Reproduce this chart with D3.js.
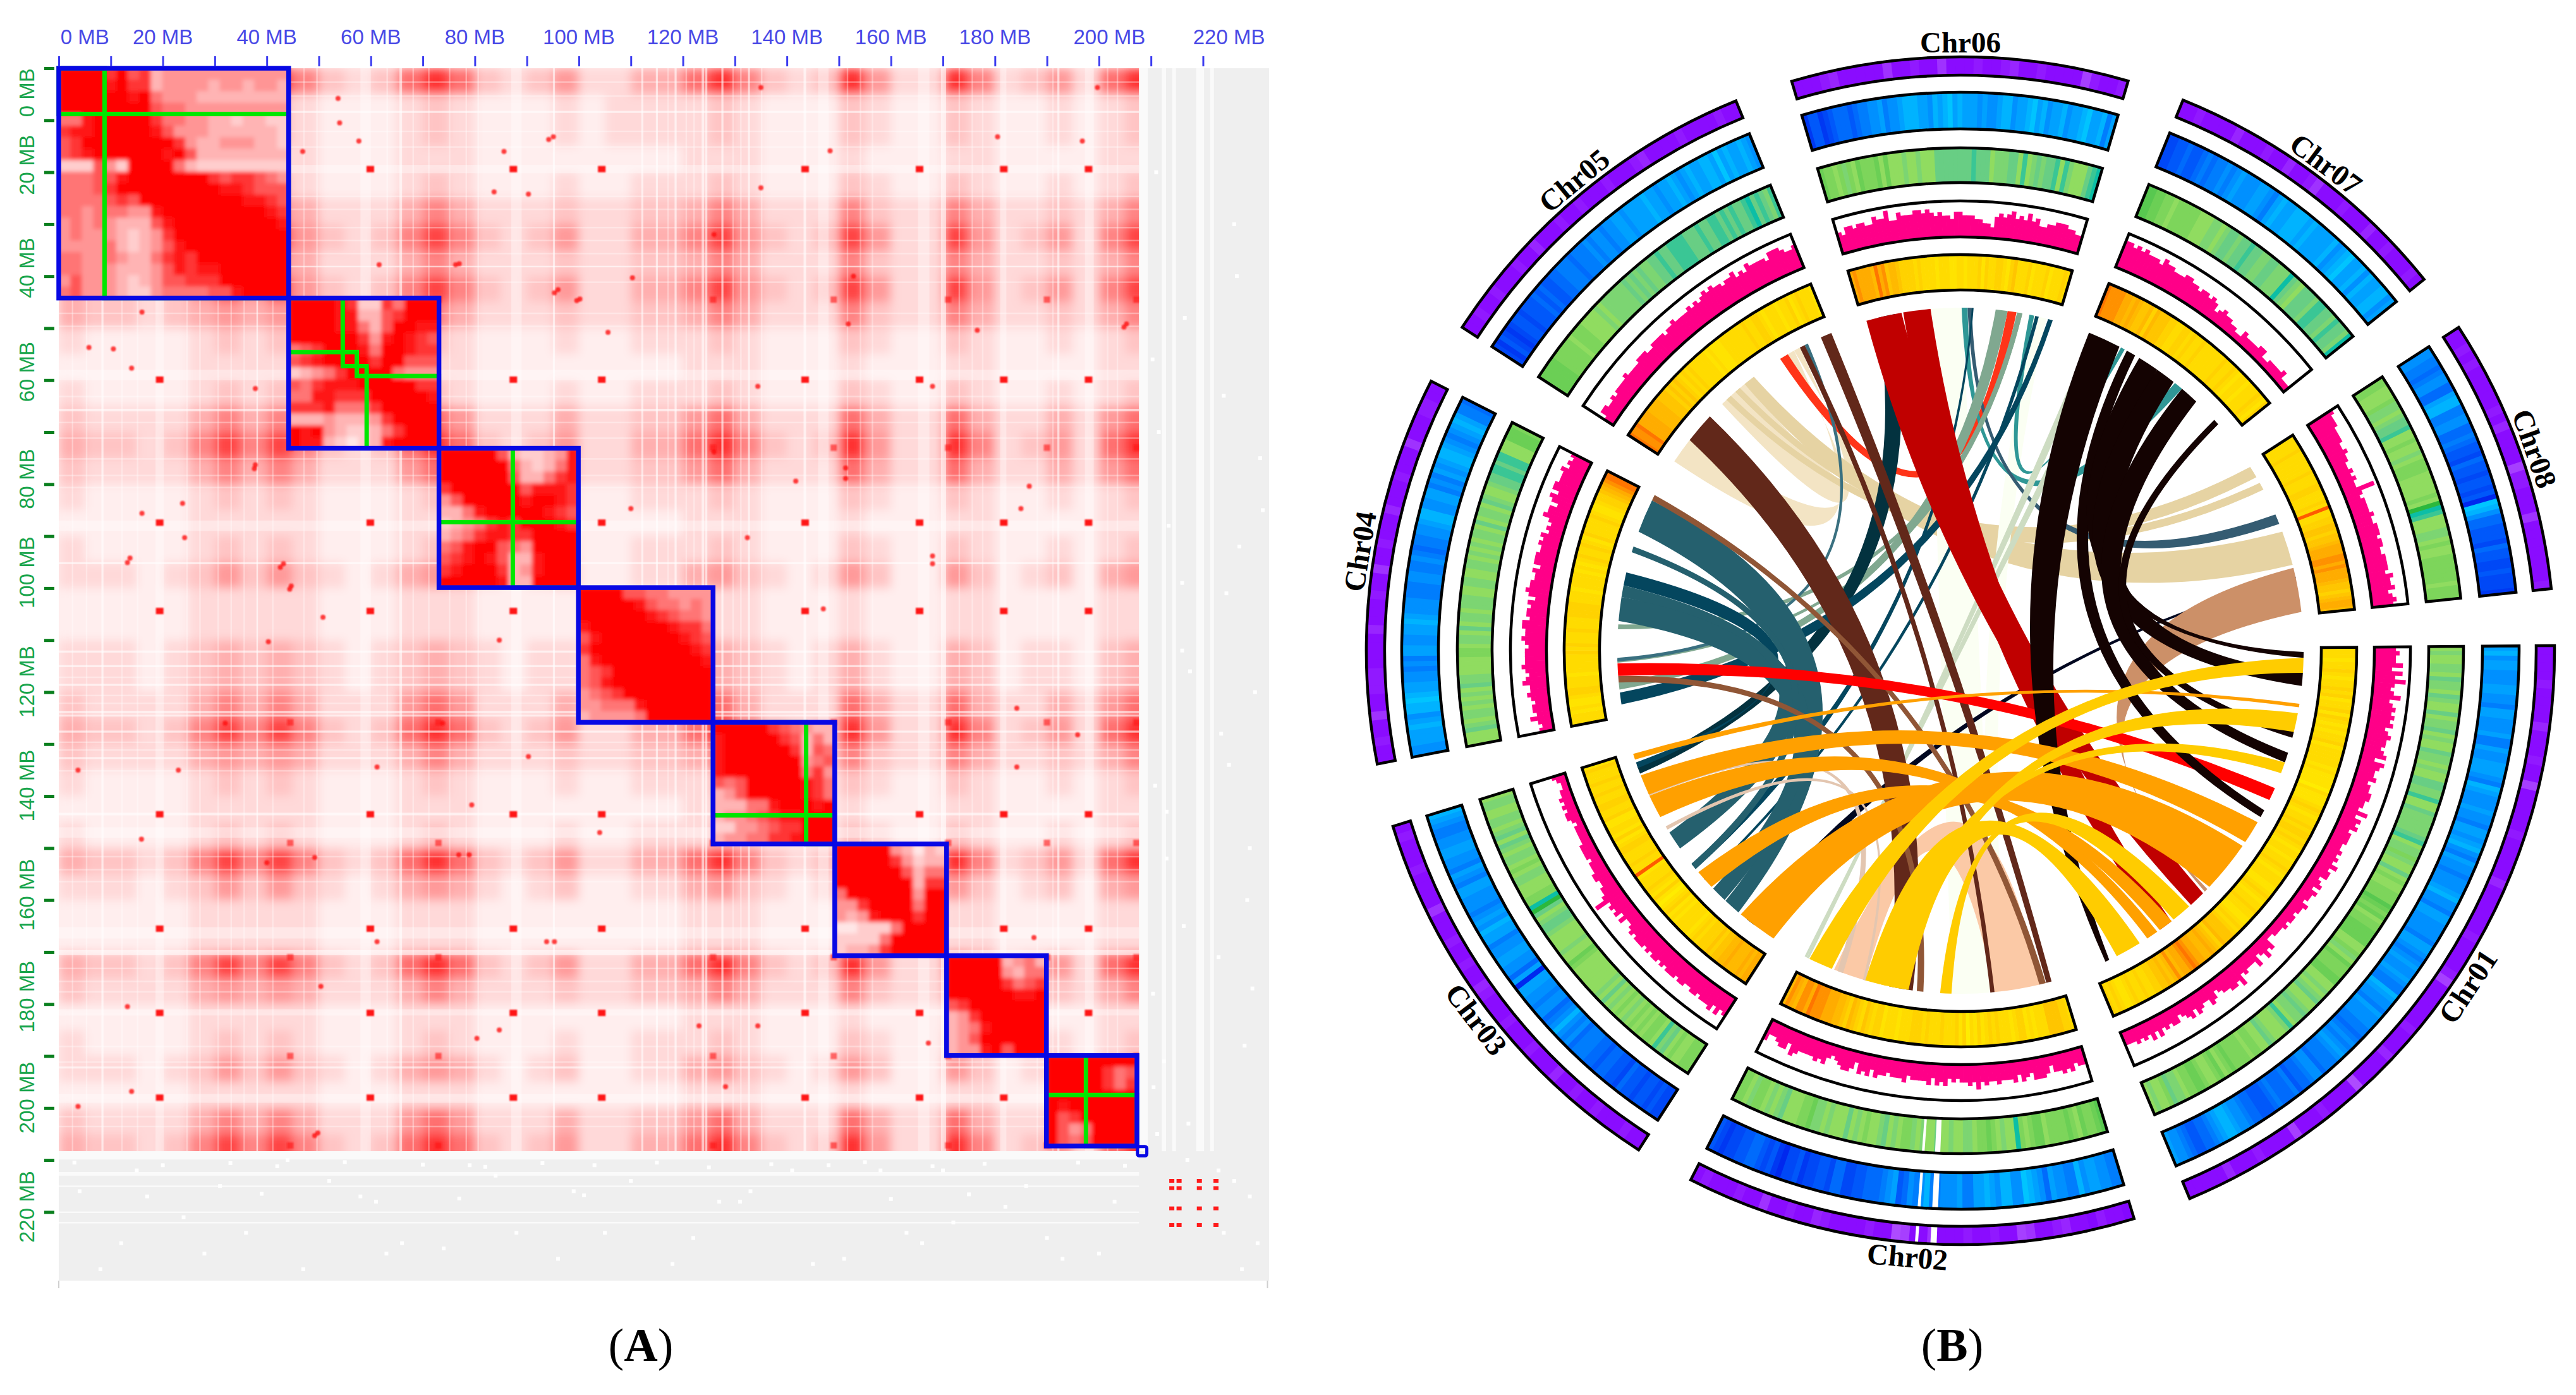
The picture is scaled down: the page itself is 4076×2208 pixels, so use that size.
<!DOCTYPE html>
<html><head><meta charset="utf-8">
<style>html,body{margin:0;padding:0;background:#fff}svg{display:block}</style>
<script src="https://cdnjs.cloudflare.com/ajax/libs/d3/7.8.5/d3.min.js"></script>
</head><body>
<script>
// ---------- PANEL A DATA (all positions in MB) ----------
const xTicks = [0,10,20,30,40,50,60,70,80,90,100,110,120,130,140,150,160,170,180,190,200,210,220];
const yTicks = [0,10,20,30,40,50,60,70,80,90,100,110,120,130,140,150,160,170,180,190,200,210,220];
const tickNames = ["0 MB","20 MB","40 MB","60 MB","80 MB","100 MB","120 MB","140 MB","160 MB","180 MB","200 MB","220 MB"];
const xNameAt = [5,20,40,60,80,100,120,140,160,180,202,225];
const yNameAt = [4.7,18.6,38.4,58.4,79,97,118,138,159,178.6,198,219];
const chrBounds = [0,44.2,73.1,99.9,125.8,149.2,170.7,189.9,207.3];
const tailContig = [207.4,209.2];
const contigBounds = [[0,8.8,44.2],[44.2,54.6,57.3,59.2,73.1],[73.1,87.3,99.9],[125.8,143.7,149.2],[189.9,197.5,207.3]];
const binMB = 5;
const contacts = [
"322125858521269621241133695212941195124169",
"211111212100012100010111121000210021001012",
"211112212100012100010111121000210021001012",
"100001111100011100000000111000100011000011",
"211112212100012100010011121000210021001012",
"322123434311135311121122353111521153112135",
"322124747421258521241133584212841184124158",
"322123434311135311121122353111521153112135",
"322124747421258521241133584212841184124158",
"322123434311135311121122353111521153112135",
"100001212100012100010011121000210021001012",
"000001111100011100000000111000100011000011",
"100001212100012100010011121000210021001012",
"211113535311146411131122463111631163113146",
"322125858521269621241133695212941195124169",
"211113535311146411131122463111631163113146",
"100001212100012100010011121000210021001012",
"000001111100011100000000111000100011000011",
"100001212100012100010011121000210021001012",
"111012424210134310120011342101420042012034",
"000001111100011100000000111000100011000011",
"000001111100011100000000111000100011000011",
"111012323210123210110011232101310032011023",
"111012323210123210110011232101310032011023",
"211113535311146411131122463111631163113146",
"322125858521269621241133695212941195124169",
"211113434311135311121122353111521153112135",
"100001212100012100010011121000210021001012",
"000001111100011100000000111000100011000011",
"100001212100012100010011121000210021001012",
"322125858521269621241133695212941195124169",
"111012424210134310120011342101420042012034",
"000001111100011100000000111000100011000011",
"000001111100011100000000111000100011000011",
"322125858521269621241133695212941195124169",
"211113434311135311121122353111521153112135",
"000001111100011100000000111000100011000011",
"100001212100012100010011121000210021001012",
"111012424210134310120011342101420042012034",
"000001111100011100000000111000100011000011",
"211113535311146411131122463111631163113146",
"322125858521269621241133695212941195124169"];
const block1 = ["99997967344444444444","99998977344443443443","99999989544433333333","99999999655444444444","55899999755443323322","78899999864443333332","67999999997433444332","67899999989633333333","22264299995322222222","55566899999997677654","55567999999999887666","55556769999999998876","55455544899999999987","45454333689999999998","45444323479999999999","44445323468999999999","55445433578799999999","55444333468788999999","46444323466777999999","56444322455556689999"];
const block2 = ["9999872275999","9999883367999","9999885369988","9999997489876","5679998599877","6789999799666","2345799995444","6578889999977","5588777999998","7778555799999","3334333479999","9894322357999","9883212389999"];
const block3 = ["999996322348","999999532358","999999633578","799999968887","469999989987","335899999876","234578799987","345788779999","568996549999","678986338999","789997348999","999998339999"];
const block4 = ["999966554444","999998655454","999999876554","899999998775","689999999876","799999999987","589999999998","567999999999","568999999999","456799999999","445558999999","344445999999"];
const block5 = ["99999765433","89999976353","89999997365","89999999456","89999999574","65699999875","34699999875","33355899989","34456788999","22445677999","34455778999"];
const block6 = ["9999943132","9999974233","9999996355","9999999377","5999999499","4479999599","4348999799","1122259999","2222599999","2334799999"];
const block7 = ["999993453","999994355","999997567","999999889","679999999","347999999","345899999","346999999","344896999"];
const block8 = ["99999999","99999756","99999757","99999999","98999999","96799999","96459999","96569999"];
const centromeres = [19.4,59.9,87.4,104.4,143.5,165.5,181.7,198];
const chrEndSpots = [44.5,73,125.8,149,171,190,207.2];
const minorX = [61.6,76.3,85.6,83.7,46.9,57.7,95.3,99.6,10.5,5.8,37.6,13.2,42.6,44.4,50.8,40.3,90.3,110,94.2,199.7,135,135,152.8,151.3,151.3,147,186.6,185,204.8,126,126,49.2,50.4,49.2,14,13.2,79.4,90.3,93.8,95.3,61.2,61.2,15.9,184.2,184.2,167.2,195.9];
const minorY = [37.8,37.8,16,23.8,16,14,43.2,44.7,54,53.7,77,95.1,96,100.2,105.6,110.3,24.2,84.7,13.7,3.7,23,3.7,40,76.9,78.9,104,80.4,84.7,49.8,32,73.8,151.8,176.6,205.3,196.8,180.5,141.7,132.4,168,168,134.4,168,148.3,123.1,134.4,187.5,128.2];
const streakStart = [8.2,18.6,38,58,65.5,87,95,112,114.8,118.4,123.6,124.3,127.4,132.5,143.2,146,165.2,169.6,181,192,197.3];
const streakEnd   = [8.6,20.2,38.3,60,66,89,95.4,112.4,115.2,118.8,124.1,124.7,127.8,132.9,143.7,148,167.4,170.6,182.2,192.4,199];
const thinLines = [2.5,5.2,12,15,24.5,27,30.5,33,35.5,41,47,49.5,63,68,71,75,78.2,80.5,117,120.5,122,129.5,131,135,151.5,154,156.3,173,175.5,177.5,188,191,201.5,203.4];
const greyColStart = [207.7,212.1,214.1,218.7,221.4];
const greyColEnd   = [209.4,212.9,214.8,220.2,222.1];
const greyRowStart = [208.3,212.3,214.9,219.9,221.9];
const greyRowEnd   = [209.9,213,215.2,220.2,222.2];
const specksX = [211,216.5,224,227,230,225,229,223,228,211.2,226,231,224.5,216,213,228.5,226.5,231.5,223.5,229.5,210.5,217,224,227.5,230.5,4,15,28,36,47,58,66,79,88,96,110,122,133,145,158,166,172,186,193,203,12,31,44,63,84,105,127,151,170,190,8,24,52,74,99,118,141,163,182,200,3,20,33,42,55,70,82,93,103,115,125,137,148,155,168,178,196,205,17,39,61,77,101,131,160,175,210.3,211.5,213.4,216,217.5,210.8,213,216.3,210.4,212.5,217.2,223,226,229];
const specksY = [20,48,63,92,120,134,150,171,188,205,30,75,101,112,143,160,40,85,128,177,196,210,224,231,226,216,212,228,224,231,217,226,211,224,229,214,225,216,230,212,226,222,215,229,218,226,215,210,228,213,224,218,229,212,225,231,221,214,227,216,230,212,224,219,228,210.5,211,210.6,211.2,210.4,210.9,211.3,210.6,211,210.5,211.4,210.8,211,210.4,211.2,210.7,210.5,211.1,217,216.5,218,217.4,216.8,218,217.5,216.6,56,70,88,99,116,138,152,165,178,191,203,212,214,217];
const farSpots = [214,215.4,219.3,222.5];

// ---------- PANEL B DATA (angles in degrees clockwise from the top) ----------
const chrNames = ["Chr01","Chr02","Chr03","Chr04","Chr05","Chr06","Chr07","Chr08"];
const chrFrom = [89.5,163,212.8,259,303,343.5,22,57];
const chrTo   = [157.3,207,252.8,297,337.8,376.4,51.3,84];
const nameAngle = [123.5,185,232.7,279.4,320.6,360,36.9,70.6];
const purpleBins = ["333343333533343373333343333353333334333347333333433353333833334333733334333533333","23342335433673343343336337833433334533433633433343","3343334334335333433343334533433433363333433343","334336334443333533343363343335333433363334433","33433433343353334334333433345333343333433","3334533333633433633343345334333374334","33433335333433533463334333533433343","33434333334353333744333633333334"];
const blueBins = [
"7867766677665776667557667776587666766577678657665666786657766665776567667655876657666554565676555466544354445433344566788765443345667",
"5566776855667467896688678775576665586564376544433224423322132201323443322123",
"2232332334233443445554656865466566770746677665778676566677567566776655678",
"667778768898776656577667787666555665565455667886677565767887656787554",
"2132123323334343344555455565665667767777877677876787788797877876",
"133123444345566756678887768789787776766788677897867786778977857",
"2233433454556567666776578778887877778678977868778867",
"6655456644788556644543324332332309864433324332232221"];
const greenBins = [
"5655665766576557566756557665655776685576666678566465575455444234354433335546534443355656755676658655567554454444345345543344566745565",
"2344354344445334549556543445665565575565644565765545657555656634455576565446544",
"44455457685445454565456575655555554355655556776570944555665456656757656655665",
"55576566565657665555445665756656665566556656565665756657655677887885553334",
"333334444454445555656666667676766778778888777877887878778978768",
"3445464534443535556556555777777778777566677585676778586555789",
"2233445444445556656776778776677666976577768877687769",
"4455546656778554556544455555450985556654554444445444"];
const pinkBins = [
"6766858696568567676756766567476556455665547465645554454546455345354435443443433322546436444547566554356445646543554546464545444",
"55465655356664564655565565756554546564655554655545564656356654346565555674665446",
"6575766656655665666565665656665654464656596554455444344443333323443434332234",
"43464554565576567666656766775665646766556466655656454576646757766675656",
"355445455556555566655666656676666767678787767786768777768887667",
"6577677668779668777887876766577666554436767867686755667776655",
"8878787776877666776656656534544332243333442233334222",
"877766665565544545449545555655666566556666576675676"];
const yellowBins = [
"22212232122323122313212122312222212111102111232122323323212212232122211232122322112323444534565566787665754544332232232112323",
"2334444222121332122232321312031322232223233322212221332342345345566677786775675",
"66565556554434333232122221213210131232221922322233213122113223322322322231",
"222121123322212222232322232223333222122221212322321322223211233456788",
"87786666555544434343232322222121112222222322332122212231232221",
"67666658674554333323222212221122122231322332134222312223122232",
"877776656544535444332233232232222223223212212223213",
"2222322222232223322232922334434456667767666544345665"];
const chr02Gaps = [[182.3,182.9],[184.1,184.4]];
const linkColors = {pale:"#f3e4c4",tan:"#e6d3a3",honey:"#fbfff3",peach:"#fbc9a6",scarlet:"#ff3418",teal2:"#2f9796",slate:"#355c72",navy:"#000720",clay:"#cc9068",sage:"#80a890",mist:"#cddcc2",teal:"#25606e",teal3:"#3a7080",deep:"#04465e",night:"#03323f",brown:"#62281a",rust:"#905636",crimson:"#c00000",red:"#ff0000",black:"#140302",beige:"#e3c6b0",orange:"#ffa000",gold:"#ffcc00"};
const linkWaist = {pale:1,tan:1,honey:1,peach:.9,clay:1,teal:1,deep:.9,night:.9,brown:.9,crimson:1,black:1.25,orange:.55,gold:.5,red:.7};
const links = [
[303.5,307.9,329.8,331,"pale"],[316,321,331,332.1,"pale"],[321,323,69.7,75.5,"tan"],[317,318,60.7,62,"tan"],[319,320,57.6,59.6,"tan"],
[355,360.2,174.5,181.4,"honey"],[12.4,14.5,172,174,"honey"],[196.1,201.6,166.7,174.3,"peach"],
[328.3,329.8,7.9,9.4,"scarlet"],[0.2,1.2,38.7,40.2,"teal2"],[11.6,12.4,27.9,28.6,"teal2"],[1.2,1.9,66.6,68.3,"slate"],
[77.5,77.8,217,218.5,"navy"],[76,83.5,134,134.6,"clay"],
[5.9,7.9,263.5,264.7,"sage"],[9.5,10.4,273.6,274.4,"sage"],[9.8,10.4,268,268.6,"sage"],[22.5,24,206.2,206.6,"mist"],[25.5,27,206.6,207,"mist"],
[333,333.6,268.2,268.8,"teal3"],[346,349,249,250.5,"night"],[281,283.2,250,251,"deep"],[261,263,14.8,15.6,"deep"],[1.9,2.2,230.5,231.6,"deep"],[12.6,13.2,228,228.4,"deep"],
[290.3,296,220.3,223.2,"teal"],[275,279,223.4,226.1,"teal"],[279,281,234.8,238,"teal"],[286.7,287.7,230.5,231.6,"teal"],
[307.9,313.1,188,192,"brown"],[336,337.9,164.6,165.5,"brown"],[332.1,333,174.3,175,"brown"],[296,297,165.6,166.7,"rust"],[264.7,265.8,186.2,187.3,"rust"],
[344.1,350.1,135,137.8,"crimson"],[350.4,355,142.1,144.4,"crimson"],
[238.6,239.2,196,196.5,"beige"],[245,245.6,200,201,"beige"],
[265.8,267.9,113.6,115.8,"red"],
[22,27.6,154.3,155,"black"],[29,30.6,117.7,119,"black"],[31.4,35,90.2,91.2,"black"],[35,38.4,93.7,95.9,"black"],[40.2,43.4,107.3,109,"black"],[47.7,48.7,103.7,104.7,"black"],
[251.5,252.5,98.9,99.5,"orange"],[213,219.8,124.7,133.5,"orange"],[245.2,248.7,120,123.9,"orange"],[241,245,145,147,"orange"],[226.5,229.8,142,144.5,"orange"],
[190,192,100.5,103.7,"gold"],[192.5,194,109,110.9,"gold"],[202,206.1,91.2,93.7,"gold"],[188.7,196.1,148.5,152.9,"gold"],[181.5,183.4,138.2,141.6,"gold"]
];

// ---------- DRAW ----------
const svg = d3.select("body").append("svg").attr("width",4076).attr("height",2208).attr("viewBox","0 0 4076 2208");
const defs = svg.append("defs");
const addBlur = (id,sd)=>defs.append("filter").attr("id",id).attr("filterUnits","userSpaceOnUse").attr("x",0).attr("y",0).attr("width",2100).attr("height",2100).append("feGaussianBlur").attr("stdDeviation",sd);
addBlur("soft",8); addBlur("tight",3.2); addBlur("fuzz",1.1);
const x = d3.scaleLinear().domain([0,232.7]).range([93,2008]);
const y = d3.scaleLinear().domain([0,233.2]).range([108,2027]);
const transColor = d3.scaleLinear().domain([0,9]).range(["#ffeeee","#ff3030"]);
const blockColor = d3.scaleLinear().domain([0,3,6,8,9]).range(["#ffffff","#ffb4b4","#ff5656","#ff1414","#ff0000"]);
const A = svg.append("g");
A.append("rect").attr("x",x(0)).attr("y",y(0)).attr("width",x(232.7)-x(0)).attr("height",y(233.2)-y(0)).attr("fill","#efefef");
const pinkW = x(207.7)-x(0), pinkH = y(208.3)-y(0);
defs.append("clipPath").attr("id","pinkClip").append("rect").attr("x",x(0)).attr("y",y(0)).attr("width",pinkW).attr("height",pinkH);
const pink = A.append("g").attr("clip-path","url(#pinkClip)");
pink.append("rect").attr("x",x(0)).attr("y",y(0)).attr("width",pinkW).attr("height",pinkH).attr("fill","#ffeeee");
pink.append("g").attr("filter","url(#soft)").selectAll("g").data(contacts).join("g").each(function(row,r){
  d3.select(this).selectAll("rect").data(row.split("")).join("rect")
    .attr("x",(d,c)=>x(c*binMB)).attr("y",y(r*binMB)).attr("width",x(binMB)-x(0)+1).attr("height",y(binMB)-y(0)+1)
    .attr("fill",d=>transColor(+d));
});
const streaks = pink.append("g").attr("fill","#ffffff");
streakStart.forEach((s,i)=>{
  const op = streakEnd[i]-s>1 ? .36 : .6;
  streaks.append("rect").attr("x",x(s)).attr("y",y(0)).attr("width",x(streakEnd[i])-x(s)).attr("height",pinkH).attr("opacity",op);
  streaks.append("rect").attr("x",x(0)).attr("y",y(s)).attr("width",pinkW).attr("height",y(streakEnd[i])-y(s)).attr("opacity",op);
});
thinLines.forEach(v=>{
  streaks.append("rect").attr("x",x(v)).attr("y",y(0)).attr("width",x(v+.3)-x(v)).attr("height",pinkH).attr("opacity",.34);
  streaks.append("rect").attr("x",x(0)).attr("y",y(v)).attr("width",pinkW).attr("height",y(v+.3)-y(v)).attr("opacity",.34);
});
const spots = pink.append("g").attr("filter","url(#fuzz)").attr("fill","#ff1414");
centromeres.forEach((a,i)=>centromeres.forEach((b,j)=>{ if(i!==j) spots.append("rect").attr("x",x(a)-6).attr("y",y(b)-5).attr("width",12).attr("height",10); }));
chrEndSpots.forEach((a,i)=>chrEndSpots.forEach((b,j)=>{ if(i!==j) spots.append("rect").attr("x",x(a)-5).attr("y",y(b)-5).attr("width",10).attr("height",10).attr("opacity",.6); }));
minorX.forEach((a,i)=>{
  spots.append("circle").attr("cx",x(a)).attr("cy",y(minorY[i])).attr("r",4).attr("opacity",.8);
  spots.append("circle").attr("cx",x(minorY[i])).attr("cy",y(a)).attr("r",4).attr("opacity",.8);
});
// grey margin texture
const grey = A.append("g").attr("fill","#ffffff");
greyColStart.forEach((s,i)=>grey.append("rect").attr("x",x(s)).attr("y",y(0)).attr("width",x(greyColEnd[i])-x(s)).attr("height",y(208.3)-y(0)).attr("opacity",.7));
greyRowStart.forEach((s,i)=>grey.append("rect").attr("x",x(0)).attr("y",y(s)).attr("height",y(greyRowEnd[i])-y(s)).attr("width",x(207.7)-x(0)).attr("opacity",.7));
specksX.forEach((a,i)=>grey.append("rect").attr("x",x(a)-3).attr("y",y(specksY[i])-3).attr("width",6).attr("height",6));
farSpots.forEach(a=>farSpots.forEach(b=>A.append("rect").attr("x",x(a)-4).attr("y",y(b)-3).attr("width",8).attr("height",6).attr("fill","#ff1a1a")));
// chromosome blocks
const blocks = [block1,block2,block3,block4,block5,block6,block7,block8];
blocks.forEach((m,k)=>{
  const b0=chrBounds[k], b1=chrBounds[k+1];
  const cellScale=d3.scaleLinear().domain([0,m.length]).range([b0,b1]);
  const id="bk"+k;
  defs.append("clipPath").attr("id",id).append("rect").attr("x",x(b0)).attr("y",y(b0)).attr("width",x(b1)-x(b0)).attr("height",y(b1)-y(b0));
  const g=A.append("g").attr("clip-path",`url(#${id})`);
  g.append("rect").attr("x",x(b0)).attr("y",y(b0)).attr("width",x(b1)-x(b0)).attr("height",y(b1)-y(b0)).attr("fill","#ff9090");
  const inner=g.append("g").attr("filter","url(#tight)");
  m.forEach((row,r)=>inner.selectAll(null).data(row.split("")).join("rect")
    .attr("x",(d,c)=>x(cellScale(c))).attr("y",y(cellScale(r)))
    .attr("width",x(cellScale(1))-x(cellScale(0))+1).attr("height",y(cellScale(1))-y(cellScale(0))+1)
    .attr("fill",d=>blockColor(+d)));
});
// contigs (green) and chromosomes (blue)
contigBounds.forEach(list=>d3.pairs(list).forEach(([a,b])=>{
  A.append("rect").attr("x",x(a)).attr("y",y(a)).attr("width",x(b)-x(a)).attr("height",y(b)-y(a)).attr("fill","none").attr("stroke","#00e600").attr("stroke-width",7);
}));
d3.pairs(chrBounds).forEach(([a,b])=>{
  A.append("rect").attr("x",x(a)).attr("y",y(a)).attr("width",x(b)-x(a)).attr("height",y(b)-y(a)).attr("fill","none").attr("stroke","#0808e4").attr("stroke-width",7.5);
});
A.append("rect").attr("x",x(tailContig[0])).attr("y",y(tailContig[0])).attr("width",x(tailContig[1])-x(tailContig[0])).attr("height",y(tailContig[1])-y(tailContig[0])).attr("rx",3).attr("fill","none").attr("stroke","#0808e4").attr("stroke-width",5);
// axes
const xAxis = A.append("g").attr("transform","translate(0,105)").call(d3.axisTop(x).tickValues(xTicks).tickSize(16).tickFormat(""));
xAxis.select(".domain").remove(); xAxis.selectAll("line").attr("stroke","#3c3cf0").attr("stroke-width",3);
const yAxis = A.append("g").attr("transform","translate(86,0)").call(d3.axisLeft(y).tickValues(yTicks).tickSize(16).tickFormat(""));
yAxis.select(".domain").remove(); yAxis.selectAll("line").attr("stroke","#0a7f1e").attr("stroke-width",5);
A.append("g").selectAll("text").data(tickNames).join("text").text(d=>d).attr("x",(d,i)=>x(xNameAt[i])).attr("y",70)
  .attr("text-anchor","middle").attr("font-family","Liberation Sans").attr("font-size",33).attr("fill","#4848e6");
A.append("g").selectAll("text").data(tickNames).join("text").text(d=>d)
  .attr("transform",(d,i)=>`translate(54,${y(yNameAt[i])}) rotate(-90)`)
  .attr("text-anchor","middle").attr("font-family","Liberation Sans").attr("font-size",33).attr("fill","#18a54c");
A.append("g").attr("stroke","#cfcfcf").attr("stroke-width",2).selectAll("line").data([0,232.4]).join("line")
  .attr("x1",d=>x(d)).attr("x2",d=>x(d)).attr("y1",y(233.2)).attr("y2",y(233.2)+12);

// ---------- PANEL B ----------
const rad = d=>d*Math.PI/180;
const B = svg.append("g").attr("transform","translate(3102,1030)");
const Rl = 543;
const onCircle = a=>[Rl*Math.sin(a),-Rl*Math.cos(a)];
function linkPath(d){
  const [s0,s1,t0,t1]=d.slice(0,4).map(rad);
  const ps0=onCircle(s0), ps1=onCircle(s1), pt0=onCircle(t0), pt1=onCircle(t1);
  const m1=[(ps1[0]+pt0[0])/2,(ps1[1]+pt0[1])/2], m2=[(pt1[0]+ps0[0])/2,(pt1[1]+ps0[1])/2];
  const dv=[m1[0]-m2[0],m1[1]-m2[1]], L=Math.hypot(dv[0],dv[1])||1, n=[dv[0]/L,dv[1]/L];
  const waist=linkWaist[d[4]]??.7;
  const delta=Math.max(0,waist*Rl*((s1-s0)+(t1-t0))/2-L/2);
  const k=.12;
  const p=d3.path();
  p.moveTo(ps0[0],ps0[1]);
  p.arc(0,0,Rl,s0-Math.PI/2,s1-Math.PI/2);
  p.quadraticCurveTo(k*m1[0]+delta*n[0],k*m1[1]+delta*n[1],pt0[0],pt0[1]);
  p.arc(0,0,Rl,t0-Math.PI/2,t1-Math.PI/2);
  p.quadraticCurveTo(k*m2[0]-delta*n[0],k*m2[1]-delta*n[1],ps0[0],ps0[1]);
  p.closePath();
  return p.toString();
}
B.append("g").selectAll("path").data(links).join("path").attr("d",linkPath).attr("fill",d=>linkColors[d[4]]);
const rings = [
 {inner:911,outer:940,bins:purpleBins,color:d3.scaleLinear().domain([0,3,9]).range(["#7800ff","#8a0cff","#b458ff"])},
 {inner:826,outer:884,bins:blueBins,color:d3.scaleLinear().domain([0,3,6,9]).range(["#0028ee","#0058fa","#0090ff","#00c4ff"])},
 {inner:741,outer:796,bins:greenBins,color:d3.scaleLinear().domain([0,2,5,7,9]).range(["#2cb83c","#58c850","#90dc60","#68ce84","#0cbea6"])},
 {inner:571,outer:627,bins:yellowBins,color:d3.scaleLinear().domain([0,3,6,9]).range(["#ffec00","#ffd200","#ffac00","#ff5a00"])}
];
const arc = d3.arc();
const pad = rad(0.06);
rings.forEach(t=>{
  t.bins.forEach((s,c)=>{
    const ang=d3.scaleLinear().domain([0,s.length]).range([chrFrom[c],chrTo[c]]);
    B.append("g").selectAll("path").data(s.split("")).join("path")
      .attr("d",(d,i)=>arc({innerRadius:t.inner,outerRadius:t.outer,startAngle:rad(ang(i)),endAngle:rad(ang(i+1))+(i<s.length-1?pad:0)}))
      .attr("fill",d=>t.color(+d));
  });
});
const pinkIn=655, pinkOut=712;
const heightScale = d3.scaleLinear().domain([0,10]).range([pinkIn,pinkOut]);
pinkBins.forEach((s,c)=>{
  const ang=d3.scaleLinear().domain([0,s.length]).range([chrFrom[c],chrTo[c]]);
  B.append("g").selectAll("path").data(s.split("")).join("path")
    .attr("d",(d,i)=>arc({innerRadius:pinkIn,outerRadius:heightScale(+d),startAngle:rad(ang(i)),endAngle:rad(ang(i+1))+(i<s.length-1?pad:0)}))
    .attr("fill","#ff0088");
});
const bandEdges=[[911,940],[826,884],[741,796],[pinkIn,pinkOut],[571,627]];
chr02Gaps.forEach(g=>[[911,940],[826,884],[741,796]].forEach(e=>B.append("path")
  .attr("d",arc({innerRadius:e[0],outerRadius:e[1],startAngle:rad(g[0]),endAngle:rad(g[1])})).attr("fill","#fff")));
bandEdges.forEach(e=>chrFrom.forEach((f,c)=>B.append("path")
  .attr("d",arc({innerRadius:e[0],outerRadius:e[1],startAngle:rad(f),endAngle:rad(chrTo[c])}))
  .attr("fill","none").attr("stroke","#000").attr("stroke-width",4.5).attr("stroke-linejoin","miter")));
B.append("g").selectAll("text").data(chrNames).join("text").text(d=>d)
  .attr("transform",(d,i)=>{
    const a=nameAngle[i]%360, r=963, px=r*Math.sin(rad(a)), py=-r*Math.cos(rad(a));
    const rot=(a>90&&a<270)?a-180:a;
    return `translate(${px},${py}) rotate(${rot})`;
  })
  .attr("text-anchor","middle").attr("dominant-baseline","central")
  .attr("font-family","Liberation Serif").attr("font-weight","bold").attr("font-size",47).attr("fill","#000");

// ---------- PANEL LETTERS ----------
const letters = ["A","B"];
const letterAt = [1014,3089];
letters.forEach((l,i)=>{
  const t=svg.append("text").attr("x",letterAt[i]).attr("y",2154).attr("text-anchor","middle")
    .attr("font-family","Liberation Serif").attr("font-size",74).attr("fill","#000");
  t.append("tspan").text("(");
  t.append("tspan").attr("font-weight","bold").text(l);
  t.append("tspan").text(")");
});
</script>
</body></html>
